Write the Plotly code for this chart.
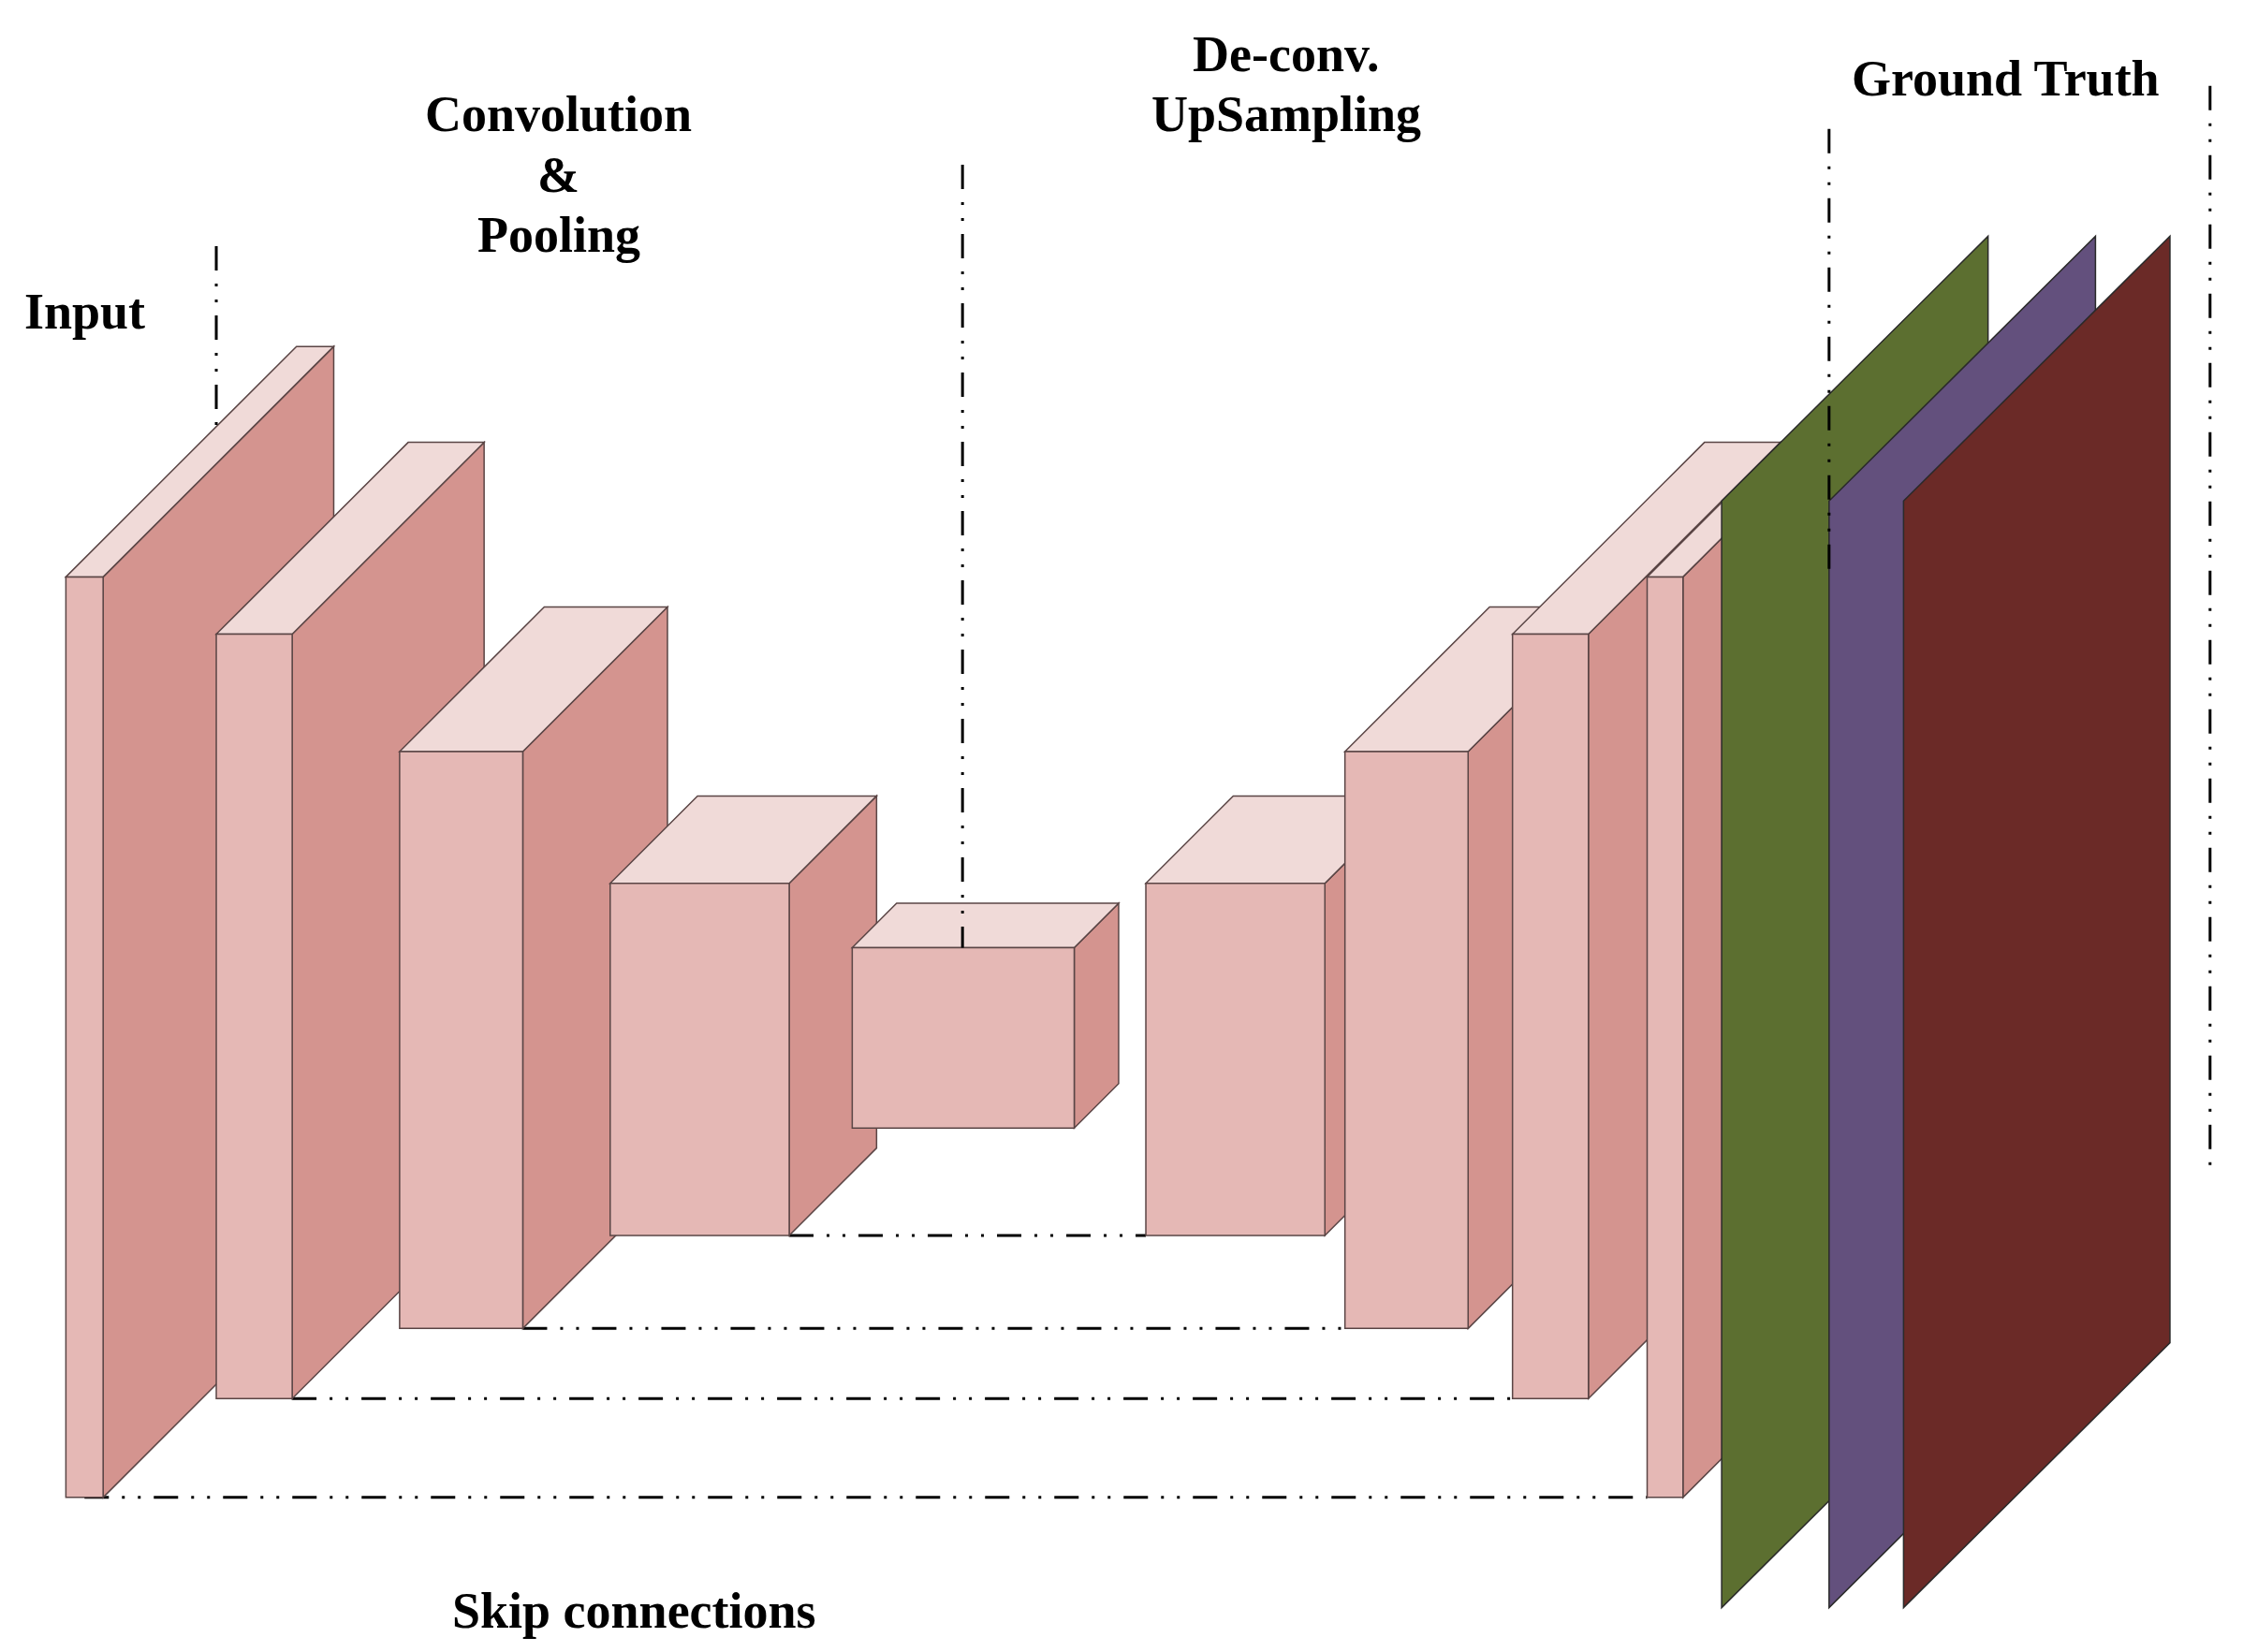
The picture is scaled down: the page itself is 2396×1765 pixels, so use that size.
import plotly.graph_objects as go

# image-space units (reference scaled down by ~1.53), y grows downwards
W, H = 1566, 1154
# the page body adds an 8px margin; pull the view back by that much
OFF = 8 * W / 2396

# encoder blocks (contracting path)
enc_x = [46, 151, 279, 426, 595]
enc_w = [26, 53, 86, 125, 155]
enc_top = [403, 443, 525, 617, 662]
enc_bot = [1046, 977, 928, 863, 788]
enc_depth = [161, 134, 101, 61, 31]

# decoder blocks (expanding path)
dec_x = [800, 939, 1056, 1150]
dec_w = [125, 86, 53, 25]
dec_top = [617, 525, 443, 403]
dec_bot = [863, 928, 977, 1046]
dec_depth = [61, 101, 134, 161]

# ground truth planes
gt_x = [1202, 1277, 1329]
gt_top = 350
gt_bot = 1123
gt_depth = 186
gt_colors = ["#5C6F30", "#63507D", "#6B2A27"]

# dash-dot dividers between stages
div_x = [151, 672, 1277, 1543]
div_top = [172, 115, 90, 60]
div_bot = [298, 662, 405, 822]

labels = ["Input", "Convolution", "&", "Pooling", "De-conv.", "UpSampling",
          "Ground Truth", "Skip connections"]
label_x = [59, 390, 390, 390, 898, 898, 1400, 443]
label_y = [218, 80, 122, 164, 38, 80, 55, 1125]

FRONT = "#E5B8B5"
SIDE = "#D4948F"
TOP = "#F0DAD8"
EDGE = "#5A4545"
DASH = "26px,14px,3px,14px,3px,14px"

shapes = []


def add_block(xl, w, yt, yb, d):
    xr = xl + w
    edge = dict(color=EDGE, width=1.5)
    shapes.append(dict(type="path", xref="x", yref="y", fillcolor=SIDE, line=edge,
                       path=f"M{xr},{yt} L{xr+d},{yt-d} L{xr+d},{yb-d} L{xr},{yb} Z"))
    shapes.append(dict(type="path", xref="x", yref="y", fillcolor=TOP, line=edge,
                       path=f"M{xl},{yt} L{xl+d},{yt-d} L{xr+d},{yt-d} L{xr},{yt} Z"))
    shapes.append(dict(type="rect", xref="x", yref="y", fillcolor=FRONT, line=edge,
                       x0=xl, x1=xr, y0=yt, y1=yb))


def dash_line(x0, y0, x1, y1):
    shapes.append(dict(type="line", xref="x", yref="y", x0=x0, y0=y0, x1=x1, y1=y1,
                       line=dict(color="black", width=3, dash=DASH)))


# skip connections go behind the blocks
for i in range(4):
    j = 3 - i
    start = enc_x[i] + enc_w[i] / 2 if i == 0 else enc_x[i] + enc_w[i]
    dash_line(start, enc_bot[i], dec_x[j], dec_bot[j])

for i in range(len(enc_x)):
    add_block(enc_x[i], enc_w[i], enc_top[i], enc_bot[i], enc_depth[i])
for i in range(len(dec_x)):
    add_block(dec_x[i], dec_w[i], dec_top[i], dec_bot[i], dec_depth[i])

for x, c in zip(gt_x, gt_colors):
    shapes.append(dict(type="path", xref="x", yref="y", fillcolor=c,
                       line=dict(color="#2A2A2A", width=1.5),
                       path=f"M{x},{gt_top} L{x+gt_depth},{gt_top-gt_depth+1} "
                            f"L{x+gt_depth},{gt_bot-gt_depth+1} L{x},{gt_bot} Z"))

for x, y0, y1 in zip(div_x, div_top, div_bot):
    dash_line(x, y0, x, y1)

annotations = [dict(x=x, y=y, xref="x", yref="y", text=t, showarrow=False,
                    xanchor="center", yanchor="middle",
                    font=dict(family="Liberation Serif", size=54, color="black",
                              weight="bold"))
               for t, x, y in zip(labels, label_x, label_y)]

fig = go.Figure()
fig.add_trace(go.Scatter(x=[0, W], y=[0, H], mode="markers",
                         marker=dict(opacity=0), hoverinfo="skip", showlegend=False))
fig.update_layout(
    width=2396, height=1765,
    margin=dict(l=0, r=0, t=0, b=0),
    paper_bgcolor="white", plot_bgcolor="white",
    xaxis=dict(range=[OFF, W + OFF], visible=False, fixedrange=True),
    yaxis=dict(range=[H + OFF, OFF], visible=False, fixedrange=True),
    shapes=shapes, annotations=annotations,
    showlegend=False,
)

fig.write_html("out.html")
